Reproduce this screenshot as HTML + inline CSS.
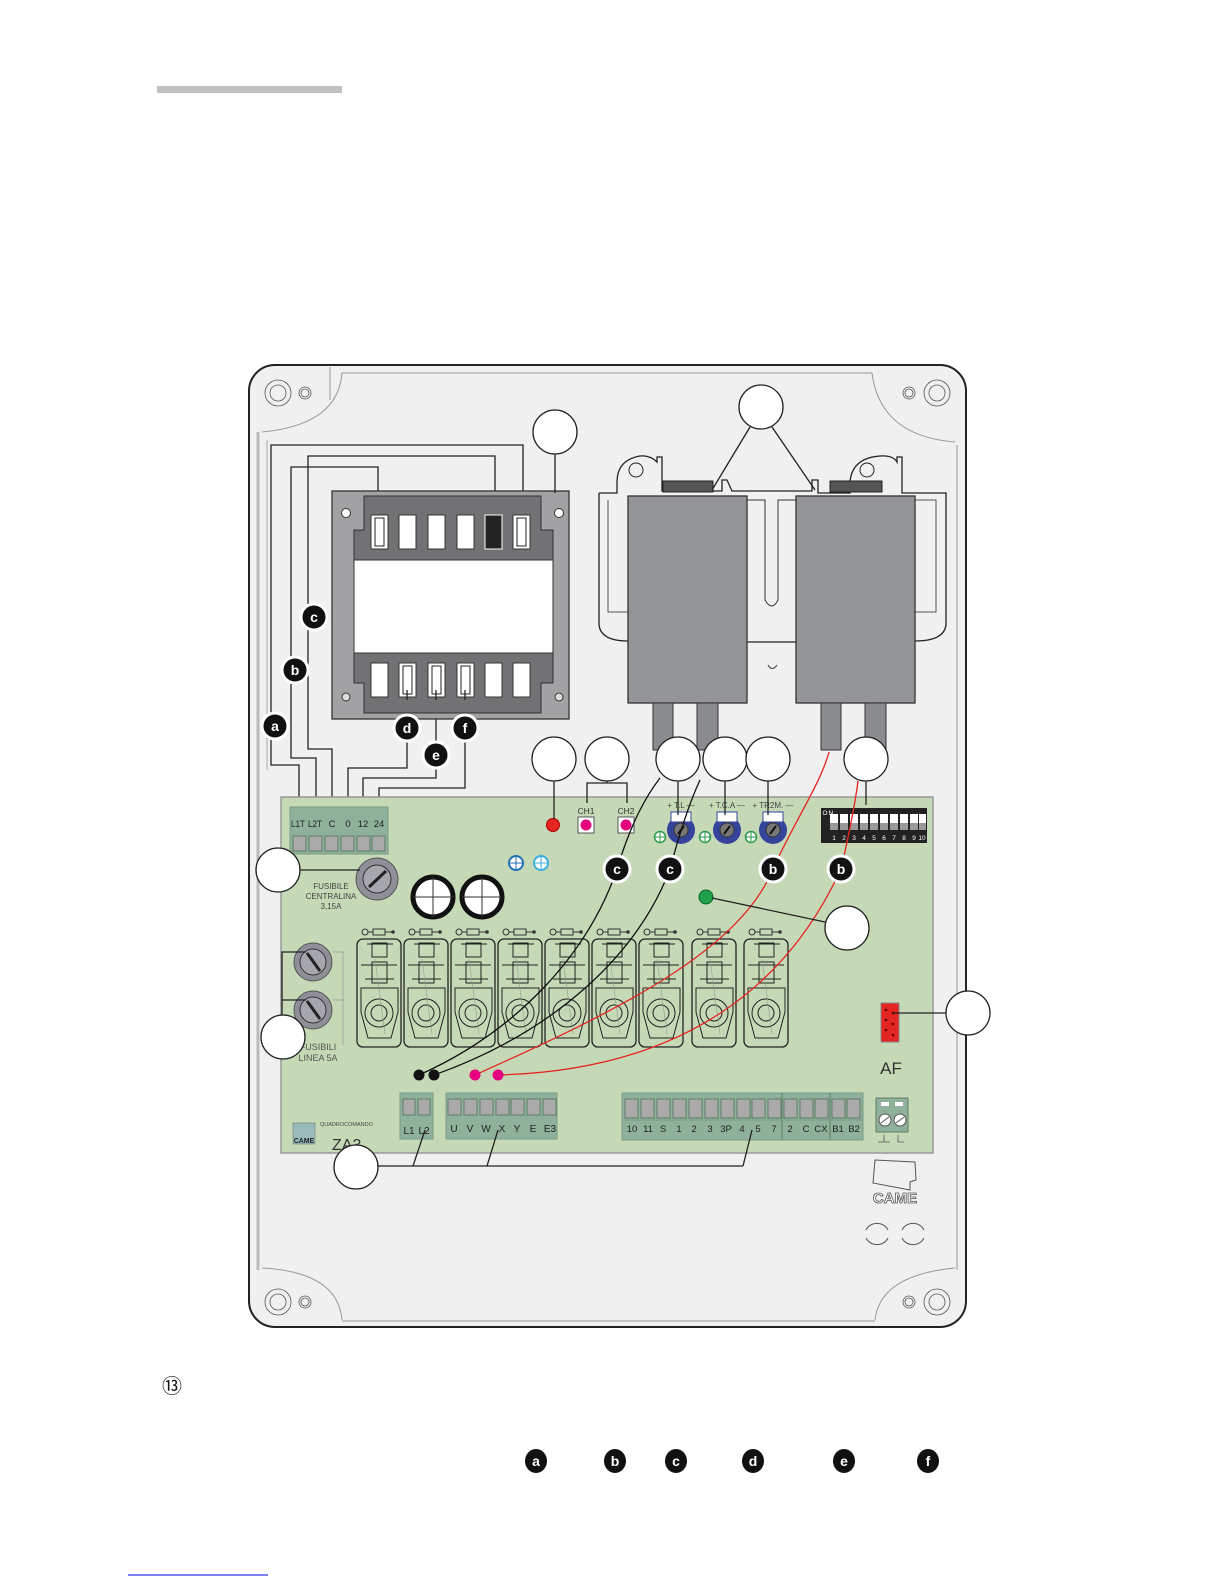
<!DOCTYPE html>
<html><head><meta charset="utf-8"><style>
html,body{margin:0;padding:0;background:#fff;}
svg{display:block;font-family:"Liberation Sans",sans-serif;}
</style></head><body>
<svg width="1225" height="1585" viewBox="0 0 1225 1585" xmlns="http://www.w3.org/2000/svg">
<defs>
<g id="rel">
  <rect x="0" y="0" width="44" height="108" rx="6" fill="none" stroke="#222" stroke-width="1.3"/>
  <circle cx="8" cy="-7" r="3" fill="none" stroke="#333"/>
  <line x1="11" y1="-7" x2="36" y2="-7" stroke="#333"/>
  <rect x="16" y="-10" width="12" height="6" fill="#c6d9b7" stroke="#333"/>
  <circle cx="36" cy="-7" r="1.8" fill="#333"/>
  <rect x="15" y="4" width="15" height="14" fill="none" stroke="#222"/>
  <line x1="10" y1="5" x2="36" y2="5" stroke="#222"/>
  <rect x="15" y="23" width="15" height="21" fill="none" stroke="#222"/>
  <line x1="4" y1="26" x2="40" y2="26" stroke="#222"/>
  <line x1="8" y1="40" x2="37" y2="40" stroke="#222"/>
  <path d="M4,49 L41,49 L41,73 L34,99 L11,99 L4,73 Z" fill="none" stroke="#222"/>
  <circle cx="22" cy="74" r="14" fill="none" stroke="#222"/>
  <circle cx="22" cy="74" r="8" fill="none" stroke="#222"/>
  <line x1="18" y1="20" x2="28" y2="95" stroke="#8aa08a" stroke-width="0.6"/>
</g>
<g id="lbl"><circle r="13" fill="#111" stroke="#fff" stroke-width="3"/></g>
</defs>

<rect x="157" y="86" width="185" height="7" fill="#c0c0c0"/>

<rect x="249" y="365" width="717" height="962" rx="26" fill="#f0f0f0" stroke="#222" stroke-width="2"/>
<path d="M342,373 L872,373" stroke="#999" fill="none"/>
<path d="M258,432 L258,1270" stroke="#bbb" stroke-width="3" fill="none"/>
<path d="M957,445 L957,1270" stroke="#999" fill="none"/>
<path d="M342,373 Q338,425 262,432" stroke="#999" fill="none"/>
<path d="M872,373 Q880,436 955,442" stroke="#999" fill="none"/>
<path d="M262,1268 Q338,1272 342,1320" stroke="#999" fill="none"/>
<path d="M955,1268 Q880,1275 875,1320" stroke="#999" fill="none"/>
<line x1="342" y1="1321" x2="875" y2="1321" stroke="#999"/>
<line x1="330" y1="367" x2="330" y2="400" stroke="#999"/>
<g fill="none" stroke="#555" stroke-width="0.8">
<circle cx="278" cy="393" r="13"/><circle cx="278" cy="393" r="8"/><circle cx="305" cy="393" r="6"/><circle cx="305" cy="393" r="4"/>
<circle cx="937" cy="393" r="13"/><circle cx="937" cy="393" r="8"/><circle cx="909" cy="393" r="6"/><circle cx="909" cy="393" r="4"/>
<circle cx="278" cy="1302" r="13"/><circle cx="278" cy="1302" r="8"/><circle cx="305" cy="1302" r="6"/><circle cx="305" cy="1302" r="4"/>
<circle cx="937" cy="1302" r="13"/><circle cx="937" cy="1302" r="8"/><circle cx="909" cy="1302" r="6"/><circle cx="909" cy="1302" r="4"/>
</g>

<g fill="none" stroke="#222" stroke-width="1.3">
<path d="M299,808 L299,765 L271,765 L271,445 L523,445 L523,518"/>
<path d="M316,808 L316,758 L291,758 L291,467 L378,467 L378,520"/>
<path d="M332,808 L332,749 L308,749 L308,456 L495,456 L495,518"/>
<path d="M348,808 L348,768 L407,768 L407,690"/>
<path d="M363,808 L363,778 L436,778 L436,690"/>
<path d="M379,808 L379,788 L465,788 L465,690"/>
</g>
<line x1="267" y1="440" x2="267" y2="770" stroke="#ccc" stroke-width="2"/>

<rect x="332" y="491" width="237" height="228" fill="#a2a2a4" stroke="#333" stroke-width="1.3"/>
<path d="M364,496 L541,496 L541,530 L553,530 L553,683 L541,683 L541,713 L364,713 L364,683 L354,683 L354,530 L364,530 Z" fill="#727274" stroke="#333"/>
<rect x="354" y="560" width="199" height="93" fill="#fff" stroke="#333"/>
<g stroke="#333" fill="#fff">
<rect x="371" y="515" width="17" height="34"/><rect x="399" y="515" width="17" height="34"/><rect x="428" y="515" width="17" height="34"/><rect x="457" y="515" width="17" height="34"/><rect x="485" y="515" width="17" height="34" fill="#222" stroke="#fff"/><rect x="513" y="515" width="17" height="34"/>
<rect x="371" y="663" width="17" height="34"/><rect x="399" y="663" width="17" height="34"/><rect x="428" y="663" width="17" height="34"/><rect x="457" y="663" width="17" height="34"/><rect x="485" y="663" width="17" height="34"/><rect x="513" y="663" width="17" height="34"/>
</g>
<g fill="none" stroke="#222"><rect x="375" y="518" width="9" height="28"/><rect x="517" y="518" width="9" height="28"/><rect x="403" y="666" width="9" height="28"/><rect x="432" y="666" width="9" height="28"/><rect x="461" y="666" width="9" height="28"/></g>
<circle cx="346" cy="513" r="4.5" fill="#fff" stroke="#333"/><circle cx="559" cy="513" r="4.5" fill="#fff" stroke="#333"/>
<circle cx="346" cy="697" r="4" fill="#ddd" stroke="#333"/><circle cx="559" cy="697" r="4" fill="#ddd" stroke="#333"/>
<g stroke="#222" stroke-width="1.3"><line x1="407" y1="690" x2="407" y2="700"/><line x1="436" y1="690" x2="436" y2="700"/><line x1="465" y1="690" x2="465" y2="700"/></g>

<path d="M599,493 L599,625 Q601,641 628,641 M747,642 L796,642 M915,641 Q944,641 946,625 L946,493 L902,493 L902,457 L897,457 L897,462 Q893,455 880,456 Q852,458 850,482 L850,493 L818,493 L818,480 L812,480 L812,491 L732,491 L727,480 L722,480 L722,491 L662,491 L662,457 L657,457 L657,462 Q650,455 640,456 Q617,460 617,482 L617,493 L599,493"
 fill="none" stroke="#222" stroke-width="1.3"/>
<path d="M608,500 L608,612 L628,612 M915,500 L936,500 L936,612 L915,612" fill="none" stroke="#555"/>
<path d="M747,500 L765,500 L765,600 Q772,612 778,600 L778,500 L796,500" fill="none" stroke="#333"/>
<circle cx="636" cy="470" r="7" fill="none" stroke="#222"/><circle cx="867" cy="470" r="7" fill="none" stroke="#222"/>
<rect x="663" y="481" width="50" height="11" fill="#555" stroke="#222"/><rect x="830" y="481" width="52" height="11" fill="#555" stroke="#222"/>
<rect x="628" y="496" width="119" height="207" fill="#949598" stroke="#333" stroke-width="1.3"/>
<rect x="796" y="496" width="119" height="207" fill="#949598" stroke="#333" stroke-width="1.3"/>
<g fill="#8a8b8e" stroke="#333"><rect x="653" y="703" width="20" height="47"/><rect x="697" y="703" width="21" height="47"/><rect x="821" y="703" width="20" height="47"/><rect x="865" y="703" width="21" height="47"/></g>
<path d="M768,665 Q772,672 777,665" fill="none" stroke="#333"/>

<rect x="281" y="797" width="652" height="356" fill="#c6d9b7" stroke="#999" stroke-width="1.5"/>

<rect x="290" y="807" width="98" height="47" fill="#8fb09a" stroke="#7a9a84"/>
<g font-size="9.5" fill="#222" text-anchor="middle"><text x="298" y="827" textLength="14" lengthAdjust="spacingAndGlyphs">L1T</text><text x="315" y="827" textLength="14" lengthAdjust="spacingAndGlyphs">L2T</text><text x="332" y="827">C</text><text x="348" y="827">0</text><text x="363" y="827">12</text><text x="379" y="827">24</text></g>
<g fill="#aaa" stroke="#5d7d67"><rect x="293" y="836" width="13" height="15"/><rect x="309" y="836" width="13" height="15"/><rect x="325" y="836" width="13" height="15"/><rect x="341" y="836" width="13" height="15"/><rect x="357" y="836" width="13" height="15"/><rect x="372" y="836" width="13" height="15"/></g>

<circle cx="377" cy="879" r="21" fill="#8f9097" stroke="#555"/>
<circle cx="377" cy="879" r="14" fill="#a6a7ad" stroke="#333"/>
<line x1="369" y1="887" x2="386" y2="871" stroke="#222" stroke-width="3"/>
<g font-size="8" fill="#444" text-anchor="middle"><text x="331" y="889">FUSIBILE</text><text x="331" y="899">CENTRALINA</text><text x="331" y="909">3,15A</text></g>

<circle cx="433" cy="897" r="20" fill="#fff" stroke="#111" stroke-width="5"/>
<line x1="433" y1="877" x2="433" y2="917" stroke="#333"/><line x1="413" y1="897" x2="453" y2="897" stroke="#333"/>
<circle cx="482" cy="897" r="20" fill="#fff" stroke="#111" stroke-width="5"/>
<line x1="482" y1="877" x2="482" y2="917" stroke="#333"/><line x1="462" y1="897" x2="502" y2="897" stroke="#333"/>
<circle cx="516" cy="863" r="7" fill="#fff" stroke="#1f6fb5" stroke-width="2"/><line x1="516" y1="856" x2="516" y2="870" stroke="#1f6fb5"/><line x1="509" y1="863" x2="523" y2="863" stroke="#1f6fb5"/>
<circle cx="541" cy="863" r="7" fill="#fff" stroke="#3aaee0" stroke-width="2"/><line x1="541" y1="856" x2="541" y2="870" stroke="#3aaee0"/><line x1="534" y1="863" x2="548" y2="863" stroke="#3aaee0"/>

<circle cx="553" cy="825" r="6.5" fill="#e52521" stroke="#a00"/>
<g font-size="8.5" fill="#333" text-anchor="middle"><text x="586" y="814">CH1</text><text x="626" y="814">CH2</text></g>
<rect x="578" y="817" width="16" height="16" fill="#fff" stroke="#555"/><circle cx="586" cy="825" r="5.5" fill="#e5007e"/>
<rect x="618" y="817" width="16" height="16" fill="#fff" stroke="#555"/><circle cx="626" cy="825" r="5.5" fill="#e5007e"/>

<g font-size="8" fill="#444" text-anchor="middle"><text x="681" y="808">+ T.L —</text><text x="727" y="808">+ T.C.A —</text><text x="773" y="808">+ TR2M. —</text></g>
<g>
<circle cx="681" cy="830" r="14" fill="#35449a"/><rect x="671" y="812" width="20" height="10" fill="#fff" stroke="#35449a"/><circle cx="681" cy="830" r="7" fill="#777" stroke="#333"/><line x1="678" y1="834" x2="684" y2="826" stroke="#111" stroke-width="2"/>
<circle cx="727" cy="830" r="14" fill="#35449a"/><rect x="717" y="812" width="20" height="10" fill="#fff" stroke="#35449a"/><circle cx="727" cy="830" r="7" fill="#777" stroke="#333"/><line x1="724" y1="834" x2="730" y2="826" stroke="#111" stroke-width="2"/>
<circle cx="773" cy="830" r="14" fill="#35449a"/><rect x="763" y="812" width="20" height="10" fill="#fff" stroke="#35449a"/><circle cx="773" cy="830" r="7" fill="#777" stroke="#333"/><line x1="770" y1="834" x2="776" y2="826" stroke="#111" stroke-width="2"/>
</g>
<g fill="#fff" stroke="#2a9a4a" stroke-width="1.5"><circle cx="660" cy="837" r="5.5"/><circle cx="705" cy="837" r="5.5"/><circle cx="751" cy="837" r="5.5"/></g>
<g stroke="#2a9a4a"><path d="M660,831v12M654,837h12M705,831v12M699,837h12M751,831v12M745,837h12"/></g>

<rect x="821" y="808" width="106" height="35" fill="#222"/>
<g fill="#fff"><rect x="830" y="814" width="8" height="16"/><rect x="840" y="814" width="8" height="16"/><rect x="850" y="814" width="8" height="16"/><rect x="860" y="814" width="8" height="16"/><rect x="870" y="814" width="8" height="16"/><rect x="880" y="814" width="8" height="16"/><rect x="890" y="814" width="8" height="16"/><rect x="900" y="814" width="8" height="16"/><rect x="910" y="814" width="8" height="16"/><rect x="919" y="814" width="7" height="16"/></g>
<g fill="#999"><rect x="830" y="823" width="8" height="7"/><rect x="840" y="823" width="8" height="7"/><rect x="850" y="823" width="8" height="7"/><rect x="860" y="823" width="8" height="7"/><rect x="870" y="823" width="8" height="7"/><rect x="880" y="823" width="8" height="7"/><rect x="890" y="823" width="8" height="7"/><rect x="900" y="823" width="8" height="7"/><rect x="910" y="823" width="8" height="7"/><rect x="919" y="823" width="7" height="7"/></g>
<g font-size="6.5" fill="#fff" text-anchor="middle"><text x="834" y="840">1</text><text x="844" y="840">2</text><text x="854" y="840">3</text><text x="864" y="840">4</text><text x="874" y="840">5</text><text x="884" y="840">6</text><text x="894" y="840">7</text><text x="904" y="840">8</text><text x="914" y="840">9</text><text x="922" y="840">10</text><text x="825" y="815">O</text><text x="831" y="815">N</text></g>

<circle cx="706" cy="897" r="7" fill="#1fa04a" stroke="#0a6a2a"/>

<circle cx="313" cy="962" r="19" fill="#8f9097" stroke="#555"/><circle cx="313" cy="962" r="13" fill="#a6a7ad" stroke="#333"/><line x1="307" y1="953" x2="320" y2="971" stroke="#222" stroke-width="3"/>
<circle cx="313" cy="1010" r="19" fill="#8f9097" stroke="#555"/><circle cx="313" cy="1010" r="13" fill="#a6a7ad" stroke="#333"/><line x1="307" y1="1001" x2="320" y2="1019" stroke="#222" stroke-width="3"/>
<path d="M333,952 L343,952 L343,1045 M333,1000 L343,1000" stroke="#999" fill="none" stroke-width="0.8"/>
<path d="M306,952 L282,952 L282,1030 M282,1000 L306,1000" stroke="#222" fill="none" stroke-width="1.3"/>
<g font-size="9" fill="#555" text-anchor="middle"><text x="318" y="1050">FUSIBILI</text><text x="318" y="1061">LINEA  5A</text></g>

<use href="#rel" x="357" y="939"/><use href="#rel" x="404" y="939"/><use href="#rel" x="451" y="939"/><use href="#rel" x="498" y="939"/><use href="#rel" x="545" y="939"/><use href="#rel" x="592" y="939"/><use href="#rel" x="639" y="939"/><use href="#rel" x="692" y="939"/><use href="#rel" x="744" y="939"/>

<rect x="881" y="1003" width="18" height="39" fill="#e52521" stroke="#888"/>
<g fill="#600"><circle cx="886" cy="1010" r="1.3"/><circle cx="893" cy="1013" r="1.3"/><circle cx="886" cy="1020" r="1.3"/><circle cx="893" cy="1024" r="1.3"/><circle cx="886" cy="1030" r="1.3"/><circle cx="893" cy="1035" r="1.3"/></g>
<text x="891" y="1074" font-size="17" fill="#333" text-anchor="middle">AF</text>

<rect x="400" y="1093" width="33" height="46" fill="#8fb09a" stroke="#7a9a84"/>
<g fill="#aaa" stroke="#5d7d67"><rect x="403" y="1099" width="12" height="16"/><rect x="418" y="1099" width="12" height="16"/></g>
<g font-size="10" fill="#222" text-anchor="middle"><text x="409" y="1134">L1</text><text x="424" y="1134">L2</text></g>
<rect x="446" y="1093" width="111" height="46" fill="#8fb09a" stroke="#7a9a84"/>
<g fill="#aaa" stroke="#5d7d67"><rect x="448" y="1099" width="13" height="16"/><rect x="464" y="1099" width="13" height="16"/><rect x="480" y="1099" width="13" height="16"/><rect x="496" y="1099" width="13" height="16"/><rect x="511" y="1099" width="13" height="16"/><rect x="527" y="1099" width="13" height="16"/><rect x="543" y="1099" width="13" height="16"/></g>
<g font-size="10" fill="#222" text-anchor="middle"><text x="454" y="1132">U</text><text x="470" y="1132">V</text><text x="486" y="1132">W</text><text x="502" y="1132">X</text><text x="517" y="1132">Y</text><text x="533" y="1132">E</text><text x="550" y="1132">E3</text></g>
<rect x="622" y="1093" width="241" height="47" fill="#8fb09a" stroke="#7a9a84"/>
<line x1="782" y1="1093" x2="782" y2="1140" stroke="#5d7d67"/><line x1="830" y1="1093" x2="830" y2="1140" stroke="#5d7d67"/>
<line x1="622" y1="1120" x2="863" y2="1120" stroke="#7a9a84"/>
<g fill="#aaa" stroke="#5d7d67">
<rect x="625" y="1099" width="13" height="19"/><rect x="641" y="1099" width="13" height="19"/><rect x="657" y="1099" width="13" height="19"/><rect x="673" y="1099" width="13" height="19"/><rect x="689" y="1099" width="13" height="19"/><rect x="705" y="1099" width="13" height="19"/><rect x="721" y="1099" width="13" height="19"/><rect x="737" y="1099" width="13" height="19"/><rect x="752" y="1099" width="13" height="19"/><rect x="768" y="1099" width="13" height="19"/>
<rect x="784" y="1099" width="13" height="19"/><rect x="800" y="1099" width="13" height="19"/><rect x="815" y="1099" width="13" height="19"/><rect x="832" y="1099" width="13" height="19"/><rect x="847" y="1099" width="13" height="19"/></g>
<g font-size="9.5" fill="#222" text-anchor="middle"><text x="632" y="1132">10</text><text x="648" y="1132">11</text><text x="663" y="1132">S</text><text x="679" y="1132">1</text><text x="694" y="1132">2</text><text x="710" y="1132">3</text><text x="726" y="1132">3P</text><text x="742" y="1132">4</text><text x="758" y="1132">5</text><text x="774" y="1132">7</text><text x="790" y="1132">2</text><text x="806" y="1132">C</text><text x="821" y="1132">CX</text><text x="838" y="1132">B1</text><text x="854" y="1132">B2</text></g>
<rect x="876" y="1098" width="32" height="34" fill="#8fb09a" stroke="#5d7d67"/>
<rect x="881" y="1102" width="8" height="4" fill="#fff"/><rect x="895" y="1102" width="8" height="4" fill="#fff"/>
<circle cx="885" cy="1120" r="6" fill="#fff" stroke="#555"/><circle cx="900" cy="1120" r="6" fill="#fff" stroke="#555"/>
<path d="M881,1123 L889,1117 M896,1123 L904,1117" stroke="#555"/>
<path d="M884,1135 v7 M878,1142 h12 M898,1135 v7 h6" stroke="#555" fill="none" stroke-width="0.8"/>

<rect x="293" y="1123" width="22" height="21" fill="#9bb" stroke="#666" stroke-width="0.5"/>
<text x="304" y="1143" font-size="7" font-weight="bold" fill="#222" text-anchor="middle">CAME</text>
<text x="320" y="1126" font-size="5.5" fill="#444">QUADROCOMANDO</text>
<text x="332" y="1150" font-size="16" fill="#333">ZA3</text>
<path d="M875,1160 L915,1162 L916,1180 L910,1182 L910,1190 L873,1183 Z" fill="none" stroke="#555"/>
<text x="895" y="1203" font-size="15" font-weight="bold" fill="#fff" stroke="#555" stroke-width="0.8" text-anchor="middle">CAME</text>
<path d="M866,1230 A12,11 0 0 1 888,1230 M866,1238 A12,11 0 0 0 888,1238 M902,1230 A12,11 0 0 1 924,1230 M902,1238 A12,11 0 0 0 924,1238" fill="none" stroke="#555"/>

<g fill="none" stroke-width="1.3">
<path d="M419,1075 C520,1030 590,950 617,869 C632,820 647,795 660,778" stroke="#111"/>
<path d="M434,1075 C560,1030 640,950 670,869 C683,820 693,795 700,780" stroke="#111"/>
<path d="M475,1075 C620,1010 740,950 773,869 C795,820 820,785 829,752" stroke="#e52521"/>
<path d="M498,1075 C690,1070 790,980 841,869 C850,830 855,805 858,781" stroke="#e52521"/>
</g>
<circle cx="419" cy="1075" r="5.5" fill="#111"/><circle cx="434" cy="1075" r="5.5" fill="#111"/>
<circle cx="475" cy="1075" r="5.5" fill="#e5007e"/><circle cx="498" cy="1075" r="5.5" fill="#e5007e"/>

<g stroke="#222" stroke-width="1.3" fill="none">
<line x1="555" y1="454" x2="555" y2="493"/>
<line x1="750" y1="427" x2="712" y2="490"/><line x1="772" y1="427" x2="815" y2="490"/>
<line x1="554" y1="781" x2="554" y2="819"/>
<path d="M607,781 L607,783 M587,803 L587,783 L627,783 L627,803"/>
<line x1="678" y1="781" x2="678" y2="815"/><line x1="725" y1="781" x2="725" y2="815"/><line x1="768" y1="781" x2="768" y2="815"/><line x1="866" y1="781" x2="866" y2="805"/>
<line x1="300" y1="870" x2="360" y2="870"/>
<line x1="712" y1="898" x2="825" y2="922"/>
<line x1="893" y1="1013" x2="946" y2="1013"/>
<path d="M378,1166 L743,1166 M413,1166 L425,1130 M487,1166 L498,1130 M743,1166 L752,1130"/>
</g>

<g fill="#fff" stroke="#222" stroke-width="1.3">
<circle cx="555" cy="432" r="22"/><circle cx="761" cy="407" r="22"/>
<circle cx="554" cy="759" r="22"/><circle cx="607" cy="759" r="22"/><circle cx="678" cy="759" r="22"/><circle cx="725" cy="759" r="22"/><circle cx="768" cy="759" r="22"/><circle cx="866" cy="759" r="22"/>
<circle cx="278" cy="870" r="22"/><circle cx="847" cy="928" r="22"/><circle cx="968" cy="1013" r="22"/><circle cx="283" cy="1037" r="22"/><circle cx="356" cy="1167" r="22"/>
</g>

<g font-size="14" font-weight="bold" fill="#fff" text-anchor="middle">
<use href="#lbl" x="275" y="726"/><text x="275" y="731">a</text>
<use href="#lbl" x="295" y="670"/><text x="295" y="675">b</text>
<use href="#lbl" x="314" y="617"/><text x="314" y="622">c</text>
<use href="#lbl" x="407" y="728"/><text x="407" y="733">d</text>
<use href="#lbl" x="436" y="755"/><text x="436" y="760">e</text>
<use href="#lbl" x="465" y="728"/><text x="465" y="733">f</text>
<use href="#lbl" x="617" y="869"/><text x="617" y="874">c</text>
<use href="#lbl" x="670" y="869"/><text x="670" y="874">c</text>
<use href="#lbl" x="773" y="869"/><text x="773" y="874">b</text>
<use href="#lbl" x="841" y="869"/><text x="841" y="874">b</text>
</g>

<text x="172" y="1393" font-size="20" fill="#111" text-anchor="middle">⑬</text>
<g fill="#111"><ellipse cx="536" cy="1461" rx="11" ry="12"/><ellipse cx="615" cy="1461" rx="11" ry="12"/><ellipse cx="676" cy="1461" rx="11" ry="12"/><ellipse cx="753" cy="1461" rx="11" ry="12"/><ellipse cx="844" cy="1461" rx="11" ry="12"/><ellipse cx="928" cy="1461" rx="11" ry="12"/></g>
<g font-size="14" font-weight="bold" fill="#fff" text-anchor="middle"><text x="536" y="1466">a</text><text x="615" y="1466">b</text><text x="676" y="1466">c</text><text x="753" y="1466">d</text><text x="844" y="1466">e</text><text x="928" y="1466">f</text></g>
<line x1="128" y1="1575" x2="268" y2="1575" stroke="#0000ee" stroke-width="1"/>
</svg>
</body></html>
